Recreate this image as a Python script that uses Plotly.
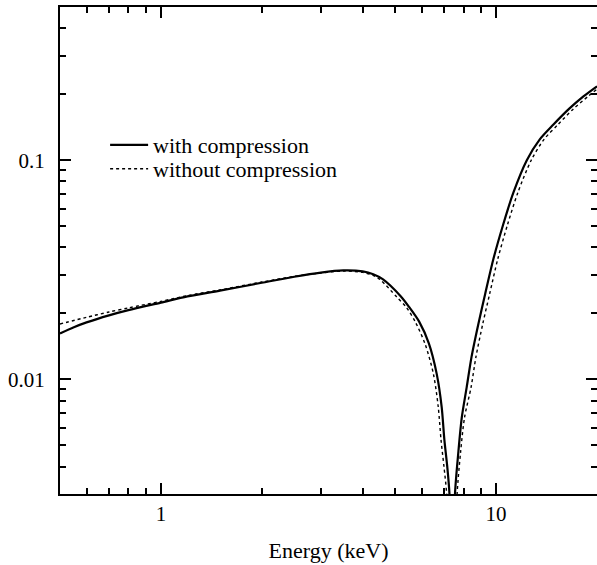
import math
import plotly.graph_objects as go

# ---- data ----
E_with = [0.5, 0.55, 0.6, 0.7, 0.8, 1.0, 1.2, 1.5, 2.0, 2.5, 3.0, 3.5, 4.0, 4.3, 4.6,
          5.2, 5.5, 5.9, 6.3, 6.65, 6.88, 7.01, 7.15, 7.26, 7.34, 7.40, 7.46, 7.54,
          7.72, 7.90, 8.17, 8.45, 8.86, 9.28, 9.82, 10.5, 11.26, 12.35, 13.5, 14.83,
          16.5, 18.22, 20.0]
F_with = [0.0162, 0.0173, 0.0182, 0.0196, 0.0207, 0.0224, 0.0239, 0.0254, 0.0276, 0.0294,
          0.0307, 0.0314, 0.0311, 0.0302, 0.0286, 0.0239, 0.0214, 0.0183, 0.0146, 0.0106,
          0.0075, 0.0053, 0.0040, 0.0030, 0.0013, 0.0003, 0.0013, 0.0030, 0.0047, 0.0067,
          0.0092, 0.0127, 0.0180, 0.0246, 0.0355, 0.0509, 0.0711, 0.100, 0.1245, 0.1455,
          0.1714, 0.1955, 0.2174]

E_without = [0.5, 0.6, 0.7, 0.8, 1.0, 1.2, 1.5, 2.0, 2.5, 3.0, 3.5, 4.0, 4.3, 4.5, 5.05,
             5.4, 5.75, 6.14, 6.50, 6.72, 6.85, 6.99, 7.12, 7.24, 7.38, 7.52, 7.65, 7.84,
             8.05, 8.42, 8.71, 9.13, 9.57, 10.12, 10.82, 11.61, 12.73, 13.9, 15.3, 17.0,
             18.8, 20.0]
F_without = [0.0179, 0.0192, 0.0203, 0.0212, 0.0227, 0.0241, 0.0256, 0.0278, 0.0295, 0.0306,
             0.0312, 0.0308, 0.0298, 0.0286, 0.0238, 0.0213, 0.0182, 0.0145, 0.0106, 0.0075,
             0.0053, 0.0040, 0.0030, 0.0012, 0.0003, 0.0012, 0.0030, 0.0047, 0.0067, 0.0092,
             0.0127, 0.0180, 0.0246, 0.0355, 0.0509, 0.0711, 0.100, 0.1245, 0.1455, 0.1714,
             0.1955, 0.211]

x_major = [1, 10]
x_major_text = ["1", "10"]
x_minor = [0.6, 0.7, 0.8, 0.9, 2, 3, 4, 5, 6, 7, 8, 9]
y_major = [0.01, 0.1]
y_major_text = ["0.01", "0.1"]
y_minor = [0.004, 0.005, 0.006, 0.007, 0.008, 0.009,
           0.02, 0.03, 0.04, 0.05, 0.06, 0.07, 0.08, 0.09,
           0.2, 0.3, 0.4]
x_range = [0.5, 20]
y_range = [0.003, 0.5]

FONT = "Liberation Serif, Times New Roman, serif"

fig = go.Figure()
fig.add_trace(go.Scatter(x=E_with, y=F_with, mode="lines", name="with compression",
                         line=dict(color="black", width=2.2, shape="spline", smoothing=0.8),
                         legend="legend"))
fig.add_trace(go.Scatter(x=E_without, y=F_without, mode="lines", name="without compression",
                         line=dict(color="black", width=1.4, dash="dot", shape="spline",
                                   smoothing=0.8),
                         legend="legend2"))
# empty trace so the right-hand tick axis (no axis line) is drawn
fig.add_trace(go.Scatter(x=[], y=[], yaxis="y2", showlegend=False, hoverinfo="skip"))

tick_style = dict(ticks="inside", ticklen=11, tickwidth=1.8, tickcolor="black")
minor_style = dict(ticks="inside", ticklen=6, tickwidth=1.8, tickcolor="black",
                   tickmode="array", showgrid=False)
yr = [math.log10(y_range[0]), math.log10(y_range[1])]

fig.update_layout(
    template="none",
    width=597, height=565,
    margin=dict(l=60, r=0, t=7, b=71),
    paper_bgcolor="white", plot_bgcolor="white",
    font=dict(family=FONT, color="black", size=22),
    xaxis=dict(type="log", showline=True, linecolor="black", linewidth=2, mirror="ticks",
               **tick_style, showgrid=False, zeroline=False, automargin=False,
               tickfont=dict(family=FONT, size=21, color="black"),
               range=[math.log10(x_range[0]), math.log10(x_range[1])],
               tickmode="array", tickvals=x_major, ticktext=x_major_text,
               ticklabelstandoff=0,
               minor=dict(**minor_style, tickvals=x_minor),
               title=dict(text="Energy (keV)", font=dict(family=FONT, size=22, color="black"),
                          standoff=17)),
    yaxis=dict(type="log", showline=True, linecolor="black", linewidth=2, mirror=False,
               **tick_style, showgrid=False, zeroline=False, automargin=False,
               tickfont=dict(family=FONT, size=21, color="black"),
               range=yr, tickmode="array", tickvals=y_major, ticktext=y_major_text,
               ticklabelstandoff=9,
               minor=dict(**minor_style, tickvals=y_minor)),
    yaxis2=dict(type="log", overlaying="y", anchor="x", side="right", showline=False,
                **tick_style, showgrid=False, zeroline=False, automargin=False,
                showticklabels=False, range=yr, tickmode="array", tickvals=y_major,
                minor=dict(**minor_style, tickvals=y_minor)),
    showlegend=True,
    legend=dict(x=0.084, y=0.7166, xanchor="left", yanchor="middle",
                bgcolor="rgba(0,0,0,0)", borderwidth=0, itemwidth=38,
                font=dict(family=FONT, size=22, color="black")),
    legend2=dict(x=0.084, y=0.6673, xanchor="left", yanchor="middle",
                 bgcolor="rgba(0,0,0,0)", borderwidth=0, itemwidth=38,
                 font=dict(family=FONT, size=22, color="black")),
)

fig.write_html("out.html", config={"displayModeBar": False},
               post_script="document.body.style.margin='0px';")
